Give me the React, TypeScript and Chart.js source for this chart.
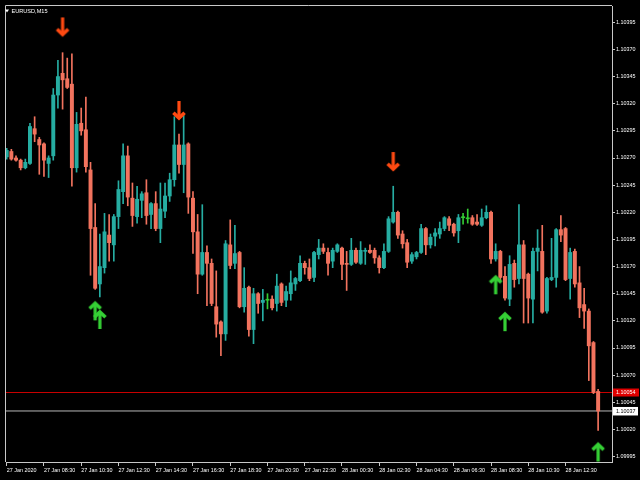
import React, { useEffect, useRef } from "react";
import { Chart, registerables } from "chart.js";

Chart.register(...registerables);

// ---- data (EURUSD M15, 27 Jan 2020 06:30 .. 28 Jan 2020 14:15) ----
const opens = [
  1.10271,1.10276,1.10270,1.10268,1.10261,1.10265,1.10297,1.10287,1.10283,1.10265,
  1.10272,1.10328,1.10348,1.10343,1.10338,1.10261,1.10302,1.10296,1.10259,1.10206,
  1.10154,1.10169,1.10199,1.10190,1.10216,1.10239,1.10272,1.10233,1.10216,1.10231,
  1.10238,1.10218,1.10228,1.10205,1.10221,1.10235,1.10250,1.10282,1.10264,1.10283,
  1.10233,1.10202,1.10163,1.10183,1.10173,1.10133,1.10119,1.10108,1.10190,1.10173,
  1.10183,1.10133,1.10151,1.10112,1.10145,1.10137,1.10139,1.10140,1.10136,1.10154,
  1.10139,1.10145,1.10154,1.10157,1.10173,1.10169,1.10160,1.10181,1.10187,1.10183,
  1.10175,1.10184,1.10187,1.10173,1.10172,1.10185,1.10173,1.10184,1.10185,1.10185,
  1.10178,1.10169,1.10184,1.10211,1.10220,1.10200,1.10192,1.10175,1.10179,1.10183,
  1.10205,1.10190,1.10198,1.10200,1.10205,1.10214,1.10209,1.10203,1.10215,1.10214,
  1.10215,1.10211,1.10208,1.10215,1.10220,1.10177,1.10184,1.10161,1.10140,1.10173,
  1.10159,1.10190,1.10163,1.10140,1.10184,1.10184,1.10129,1.10158,1.10160,1.10204,
  1.10205,1.10159,1.10184,1.10155,1.10135,1.10129,1.10100,1.10055,
];
const highs = [
  1.10279,1.10278,1.10272,1.10269,1.10269,1.10302,1.10308,1.10289,1.10284,1.10272,
  1.10334,1.10360,1.10367,1.10362,1.10366,1.10312,1.10316,1.10326,1.10266,1.10228,
  1.10200,1.10219,1.10218,1.10218,1.10249,1.10283,1.10281,1.10247,1.10244,1.10239,
  1.10250,1.10229,1.10239,1.10247,1.10247,1.10256,1.10308,1.10292,1.10310,1.10284,
  1.10239,1.10218,1.10227,1.10189,1.10177,1.10166,1.10120,1.10194,1.10213,1.10208,
  1.10184,1.10169,1.10152,1.10150,1.10146,1.10149,1.10145,1.10143,1.10163,1.10155,
  1.10152,1.10166,1.10160,1.10180,1.10175,1.10177,1.10184,1.10195,1.10191,1.10187,
  1.10187,1.10191,1.10188,1.10184,1.10196,1.10187,1.10193,1.10187,1.10190,1.10187,
  1.10180,1.10191,1.10216,1.10244,1.10221,1.10203,1.10195,1.10183,1.10184,1.10209,
  1.10206,1.10200,1.10205,1.10211,1.10216,1.10216,1.10210,1.10218,1.10219,1.10223,
  1.10217,1.10218,1.10223,1.10226,1.10221,1.10191,1.10185,1.10170,1.10180,1.10176,
  1.10227,1.10194,1.10164,1.10187,1.10204,1.10208,1.10160,1.10196,1.10205,1.10217,
  1.10206,1.10187,1.10186,1.10170,1.10150,1.10131,1.10101,1.10057,
];
const lows = [
  1.10269,1.10268,1.10267,1.10259,1.10260,1.10264,1.10285,1.10255,1.10253,1.10252,
  1.10268,1.10316,1.10315,1.10334,1.10244,1.10257,1.10291,1.10257,1.10162,1.10149,
  1.10142,1.10164,1.10175,1.10175,1.10205,1.10228,1.10226,1.10207,1.10210,1.10215,
  1.10209,1.10205,1.10203,1.10192,1.10215,1.10230,1.10244,1.10256,1.10238,1.10219,
  1.10182,1.10145,1.10162,1.10134,1.10134,1.10105,1.10088,1.10102,1.10168,1.10168,
  1.10132,1.10128,1.10106,1.10099,1.10127,1.10120,1.10131,1.10130,1.10129,1.10134,
  1.10133,1.10139,1.10148,1.10156,1.10163,1.10157,1.10156,1.10177,1.10182,1.10162,
  1.10169,1.10183,1.10158,1.10148,1.10171,1.10173,1.10172,1.10172,1.10182,1.10173,
  1.10164,1.10168,1.10183,1.10210,1.10196,1.10187,1.10169,1.10173,1.10177,1.10182,
  1.10181,1.10187,1.10189,1.10196,1.10203,1.10203,1.10198,1.10192,1.10209,1.10210,
  1.10208,1.10208,1.10207,1.10214,1.10173,1.10175,1.10157,1.10139,1.10134,1.10151,
  1.10154,1.10118,1.10118,1.10118,1.10166,1.10127,1.10127,1.10157,1.10151,1.10193,
  1.10157,1.10140,1.10151,1.10123,1.10113,1.10065,1.10053,1.10019,
];
const closes = [
  1.10277,1.10269,1.10268,1.10261,1.10266,1.10299,1.10292,1.10282,1.10268,1.10270,
  1.10328,1.10345,1.10342,1.10335,1.10261,1.10301,1.10295,1.10262,1.10205,1.10150,
  1.10170,1.10202,1.10192,1.10216,1.10241,1.10272,1.10234,1.10217,1.10232,1.10237,
  1.10217,1.10228,1.10205,1.10223,1.10235,1.10250,1.10282,1.10264,1.10282,1.10234,
  1.10202,1.10163,1.10183,1.10173,1.10136,1.10117,1.10108,1.10191,1.10171,1.10182,
  1.10133,1.10150,1.10112,1.10145,1.10136,1.10139,1.10139,1.10132,1.10152,1.10137,
  1.10147,1.10155,1.10159,1.10173,1.10169,1.10159,1.10183,1.10187,1.10184,1.10173,
  1.10185,1.10190,1.10172,1.10172,1.10185,1.10174,1.10185,1.10185,1.10183,1.10178,
  1.10169,1.10184,1.10214,1.10220,1.10199,1.10191,1.10174,1.10181,1.10183,1.10205,
  1.10190,1.10197,1.10201,1.10205,1.10215,1.10208,1.10201,1.10215,1.10215,1.10214,
  1.10209,1.10209,1.10215,1.10220,1.10177,1.10184,1.10160,1.10141,1.10172,1.10158,
  1.10190,1.10159,1.10141,1.10184,1.10187,1.10128,1.10159,1.10160,1.10204,1.10199,
  1.10158,1.10183,1.10154,1.10132,1.10129,1.10097,1.10054,1.10037,
];

const xTickIndex = [0, 8, 16, 24, 32, 40, 48, 56, 64, 72, 80, 88, 96, 104, 112, 120];
const xTickLabels = [
  "27 Jan 2020", "27 Jan 08:30", "27 Jan 10:30", "27 Jan 12:30", "27 Jan 14:30",
  "27 Jan 16:30", "27 Jan 18:30", "27 Jan 20:30", "27 Jan 22:30", "28 Jan 00:30",
  "28 Jan 02:30", "28 Jan 04:30", "28 Jan 06:30", "28 Jan 08:30", "28 Jan 10:30",
  "28 Jan 12:30",
];
const yTickValues = [
  1.09995, 1.1002, 1.10045, 1.1007, 1.10095, 1.1012, 1.10145, 1.1017, 1.10195,
  1.1022, 1.10245, 1.1027, 1.10295, 1.1032, 1.10345, 1.1037, 1.10395,
];

const downArrowIndex = [12, 37, 83];
const downArrowPrice = [1.10382, 1.10305, 1.10258];
const upArrowIndex = [19, 20, 105, 107, 127];
const upArrowPrice = [1.10138, 1.1013, 1.10162, 1.10128, 1.10008];

const askPrice = 1.10054;
const bidPrice = 1.10037;
const symbolTitle = "EURUSD,M15";

// ---- styles ----
const BULL = "#26ADA2";
const BEAR = "#F2735E";
const DOJI = "#33CC33";
const AXIS = "#C8C8C8";
const FONT = '"Liberation Sans", Arial, sans-serif';
const X_MIN = -0.15;
const X_MAX = 129.98;

function makeArrow(color: string, down: boolean): HTMLCanvasElement {
  const c = document.createElement("canvas");
  c.width = 16;
  c.height = 42;
  const ctx = c.getContext("2d")!;
  ctx.translate(8, 21);
  if (!down) ctx.scale(1, -1);
  ctx.fillStyle = color;
  ctx.strokeStyle = color;
  // stem
  ctx.fillRect(-1.6, -19, 3.2, 16);
  // chevron head (tip at 0,0)
  ctx.lineWidth = 3.6;
  ctx.lineJoin = "miter";
  ctx.lineCap = "butt";
  ctx.beginPath();
  ctx.moveTo(-5.6, -7.2);
  ctx.lineTo(0, -2);
  ctx.lineTo(5.6, -7.2);
  ctx.stroke();
  return c;
}

export default function App() {
  const ref = useRef<HTMLCanvasElement>(null);

  useEffect(() => {
    const canvas = ref.current!;
    const idx = opens.map((_, i) => i);
    const colorOf = (i: number) =>
      closes[i] > opens[i] ? BULL : closes[i] < opens[i] ? BEAR : DOJI;

    const bgPlugin = {
      id: "bg",
      beforeDraw(chart: any) {
        const ctx = chart.ctx;
        ctx.save();
        ctx.fillStyle = "#000";
        ctx.fillRect(0, 0, chart.width, chart.height);
        ctx.restore();
      },
    };

    const overlayPlugin = {
      id: "overlay",
      afterDraw(chart: any) {
        const ctx = chart.ctx;
        const a = chart.chartArea;
        const y = chart.scales.y;
        ctx.save();
        // frame
        ctx.strokeStyle = AXIS;
        ctx.lineWidth = 1;
        ctx.beginPath();
        ctx.moveTo(a.left - 0.5, a.bottom);
        ctx.lineTo(a.left - 0.5, a.top - 0.5);
        ctx.lineTo(a.right, a.top - 0.5);
        ctx.stroke();
        // title
        ctx.fillStyle = "#FFFFFF";
        ctx.beginPath();
        ctx.moveTo(5, 9.5);
        ctx.lineTo(9, 9.5);
        ctx.lineTo(7, 12.5);
        ctx.closePath();
        ctx.fill();
        ctx.font = `5.6px ${FONT}`;
        ctx.textBaseline = "middle";
        ctx.textAlign = "left";
        ctx.fillText(symbolTitle, 11.5, 11);
        // price labels
        const ya = y.getPixelForValue(askPrice);
        const yb = y.getPixelForValue(bidPrice);
        ctx.font = `5.4px ${FONT}`;
        ctx.fillStyle = "#E00000";
        ctx.fillRect(a.right + 1, ya - 4, 26, 8);
        ctx.fillStyle = "#FFFFFF";
        ctx.fillText(askPrice.toFixed(5), a.right + 4, ya);
        ctx.fillStyle = "#FFFFFF";
        ctx.fillRect(a.right + 1, yb - 4, 25, 8.5);
        ctx.fillStyle = "#000000";
        ctx.fillText(bidPrice.toFixed(5), a.right + 4, yb + 0.2);
        ctx.restore();
      },
    };

    const downArrow = makeArrow("#FF4A12", true);
    const upArrow = makeArrow("#35D035", false);

    const chart = new Chart(canvas, {
      type: "bar",
      data: {
        datasets: [
          {
            type: "bar",
            label: "body",
            data: idx.map((i) => ({ x: i, y: [opens[i], closes[i]] })) as any,
            backgroundColor: idx.map(colorOf),
            barThickness: 3.3,
            minBarLength: 1,
            grouped: false,
            borderWidth: 0,
            order: 2,
          } as any,
          {
            type: "bar",
            label: "wick",
            data: idx.map((i) => ({ x: i, y: [lows[i], highs[i]] })) as any,
            backgroundColor: idx.map(colorOf),
            barThickness: 1,
            grouped: false,
            borderWidth: 0,
            order: 3,
          } as any,
          {
            type: "line",
            label: "ask",
            data: [
              { x: X_MIN, y: askPrice },
              { x: X_MAX, y: askPrice },
            ],
            borderColor: "#C80000",
            borderWidth: 1,
            pointRadius: 0,
            order: 4,
          } as any,
          {
            type: "line",
            label: "bid",
            data: [
              { x: X_MIN, y: bidPrice },
              { x: X_MAX, y: bidPrice },
            ],
            borderColor: "#B8B8B8",
            borderWidth: 1,
            pointRadius: 0,
            order: 4,
          } as any,
          {
            type: "line",
            label: "sell",
            data: downArrowIndex.map((i, k) => ({ x: i, y: downArrowPrice[k] })),
            showLine: false,
            pointStyle: downArrow,
            pointRadius: 5,
            order: 0,
          } as any,
          {
            type: "line",
            label: "buy",
            data: upArrowIndex.map((i, k) => ({ x: i, y: upArrowPrice[k] })),
            showLine: false,
            pointStyle: upArrow,
            pointRadius: 5,
            order: 0,
          } as any,
        ],
      },
      options: {
        responsive: false,
        animation: false,
        devicePixelRatio: 1,
        events: [],
        layout: { padding: { left: 2, top: 4, right: 0, bottom: 0 } },
        plugins: {
          legend: { display: false },
          tooltip: { enabled: false },
          title: { display: false },
        },
        scales: {
          x: {
            type: "linear",
            min: X_MIN,
            max: X_MAX,
            offset: false,
            grid: {
              display: true,
              drawOnChartArea: false,
              drawTicks: true,
              tickLength: 4,
              color: AXIS,
              offset: false,
            },
            border: { display: true, color: AXIS },
            ticks: {
              autoSkip: false,
              maxRotation: 0,
              minRotation: 0,
              align: "start",
              padding: 1,
              color: "#FFFFFF",
              font: { family: FONT, size: 5.4 },
              callback: (v: any) => {
                const k = xTickIndex.indexOf(Number(v));
                return k >= 0 ? xTickLabels[k] : "";
              },
            },
            afterBuildTicks: (s: any) => {
              s.ticks = xTickIndex.map((v) => ({ value: v }));
            },
            afterFit: (s: any) => {
              s.height = 18;
            },
          } as any,
          y: {
            type: "linear",
            position: "right",
            min: 1.0999,
            max: 1.1041,
            beginAtZero: false,
            grid: {
              display: true,
              drawOnChartArea: false,
              drawTicks: true,
              tickLength: 3,
              color: AXIS,
            },
            border: { display: true, color: AXIS },
            ticks: {
              padding: 1,
              color: "#FFFFFF",
              font: { family: FONT, size: 5.4 },
              callback: (v: any) => Number(v).toFixed(5),
            },
            afterBuildTicks: (s: any) => {
              s.ticks = yTickValues.map((v) => ({ value: v }));
            },
            afterFit: (s: any) => {
              s.width = 28;
            },
          } as any,
        },
      } as any,
      plugins: [bgPlugin, overlayPlugin],
    });

    return () => chart.destroy();
  }, []);

  return (
    <div
      style={{
        position: "fixed",
        left: 0,
        top: 0,
        width: 640,
        height: 480,
        background: "#000",
      }}
    >
      <canvas
        ref={ref}
        width={640}
        height={480}
        style={{ display: "block", width: 640, height: 480 }}
      />
    </div>
  );
}
